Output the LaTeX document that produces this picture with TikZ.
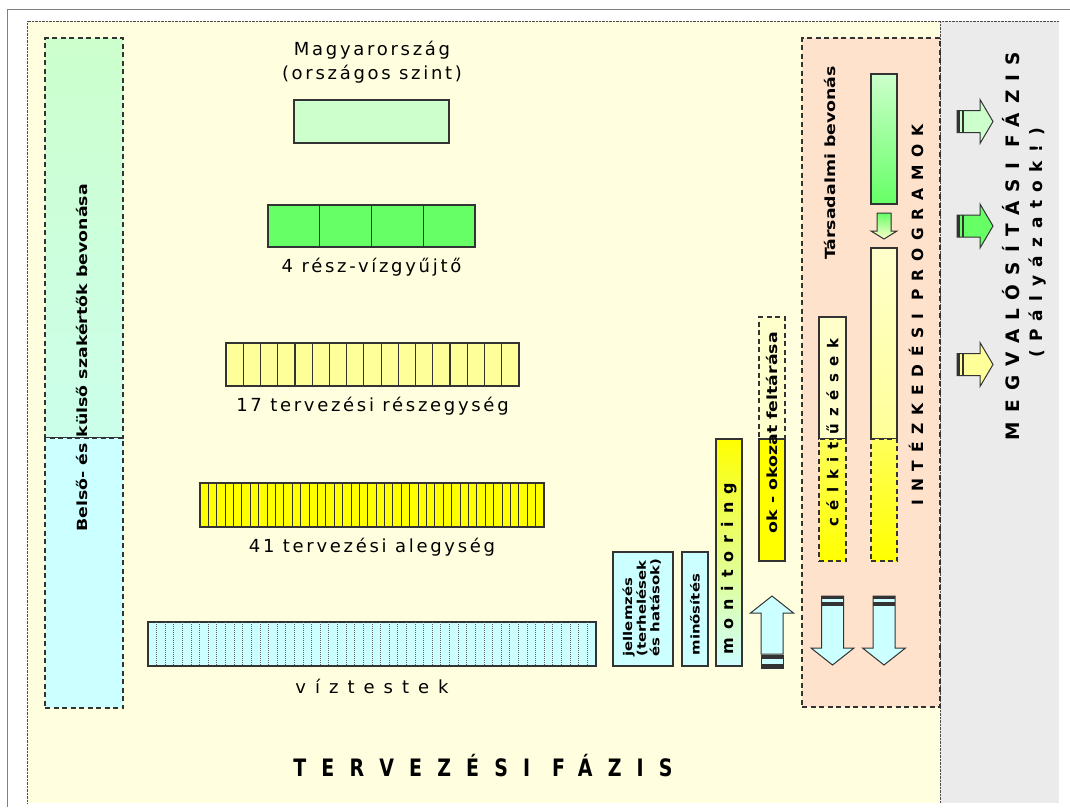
\documentclass[tikz,border=0pt]{standalone}
\usepackage{fontspec}
\setmainfont{DejaVu Sans}
\newfontfamily\looseface[LetterSpace=15]{DejaVu Sans}
\newfontfamily\spacedface[LetterSpace=50]{DejaVu Sans}
\newfontfamily\widerface[LetterSpace=80]{DejaVu Sans}
\newcommand{\widen}[1]{\scalebox{1.24}[1]{#1}}
\usetikzlibrary{calc,positioning}

\definecolor{planbg}{HTML}{FFFFE0}
\definecolor{implbg}{HTML}{EBEBEB}
\definecolor{peach}{HTML}{FFE2CC}
\definecolor{lgreen}{HTML}{CCFFCC}
\definecolor{fgreen}{HTML}{66FF66}
\definecolor{lyellow}{HTML}{FFFF99}
\definecolor{pyellow}{HTML}{FFFFCC}
\definecolor{fyellow}{HTML}{FFFF00}
\definecolor{lcyan}{HTML}{CCFFFF}
\definecolor{edge}{HTML}{333333}

\begin{document}
\begin{tikzpicture}[x=1pt,y=-1pt,line join=miter]
\tikzstyle{box}=[draw=edge,line width=1.2pt,inner sep=0pt,outer sep=0pt]
\tikzstyle{dbox}=[box,dash pattern=on 5pt off 3.5pt]
\tikzstyle{lbl}=[font=\looseface\fontsize{18}{24}\selectfont]
\tikzstyle{vlbl}=[rotate=90,font=\bfseries\fontsize{14}{16}\selectfont]
\tikzstyle{vspaced}=[rotate=90,font=\spacedface\bfseries\fontsize{14}{16}\selectfont]
\tikzstyle{blockarrow}=[draw=edge,line width=1pt]

\useasboundingbox (0,0) rectangle (1070,807);

% backgrounds
\fill[planbg] (27,21) rectangle (940,803);
\fill[implbg] (940,21) rectangle (1059,803);
\draw[gray,line width=1pt] (7,807) |- (1070,9);
\draw[densely dotted,black!70] (27,803) |- (1059,21);
\draw[densely dotted,black!70] (940,21) -- (940,803);

% experts column
\node[dbox,anchor=north west,minimum width=78,minimum height=400,top color=lgreen,bottom color=lcyan!60!lgreen] (expertsTop) at (45,38) {};
\node[dbox,anchor=north west,minimum width=78,minimum height=270,fill=lcyan] (expertsBot) at (45,438) {};
\node[vlbl] (experts) at (82,358) {\widen{Belső- és külső szakértők bevonása}};

% programmes zone
\node[dbox,anchor=north west,minimum width=138,minimum height=669,fill=peach] (programs) at (802,38) {};

% levels
\node[lbl,align=center] (nationalLabel) at (372,62) {Magyarország\\(országos szint)};
\node[box,fill=lgreen,minimum width=155,minimum height=43] (national) at (371.5,121.5) {};

\node[box,fill=fgreen,minimum width=207,minimum height=42] (subbasins) at (371.5,226) {};
\foreach \i in {1,...,3}
  \draw[edge,line width=1.2pt] ($(subbasins.north west)!\i/4!(subbasins.north east)$) -- ($(subbasins.south west)!\i/4!(subbasins.south east)$);
\node[lbl] (subbasinsLabel) [below=8pt of subbasins] {4 rész-vízgyűjtő};

\node[box,fill=lyellow,minimum width=293,minimum height=43] (units) at (372.5,364.5) {};
\foreach \i in {1,...,16}
  \draw[edge,line width=1.2pt] ($(units.north west)!\i/17!(units.north east)$) -- ($(units.south west)!\i/17!(units.south east)$);
\node[lbl] (unitsLabel) [below=8pt of units] {17 tervezési részegység};

\node[box,fill=fyellow,minimum width=344,minimum height=44] (subunits) at (372,505) {};
\foreach \i in {1,...,40}
  \draw[edge,line width=1pt] ($(subunits.north west)!\i/41!(subunits.north east)$) -- ($(subunits.south west)!\i/41!(subunits.south east)$);
\node[lbl] (subunitsLabel) [below=8pt of subunits] {41 tervezési alegység};

\node[box,fill=lcyan,minimum width=448,minimum height=44] (waterbodies) at (372,644) {};
\foreach \i in {1,...,51}
  \draw[densely dotted,black!60,line width=1pt] ($(waterbodies.north west)!\i/52!(waterbodies.north east)$) -- ($(waterbodies.south west)!\i/52!(waterbodies.south east)$);
\node[font=\spacedface\fontsize{18}{22}\selectfont] (waterbodiesLabel) [below=10pt of waterbodies] {víztestek};

% assessment steps
\node[box,fill=lcyan,anchor=north west,minimum width=60,minimum height=114] (characterisation) at (613,552) {};
\node[rotate=90,anchor=west,font=\bfseries\fontsize{12}{14}\selectfont] at ($(characterisation.south)+(0,-6)$)
  {\widen{\renewcommand{\arraystretch}{0.95}\begin{tabular}{@{}l@{}}jellemzés\\(terhelések\\és hatások)\end{tabular}}};
\node[box,fill=lcyan,anchor=north west,minimum width=26,minimum height=114] (quality) at (682,552) {};
\node[rotate=90,anchor=west,font=\bfseries\fontsize{12}{15}\selectfont] at ($(quality.south)+(0,-7)$) {\widen{minősítés}};
\node[box,anchor=north west,minimum width=26,minimum height=227,top color=fyellow,bottom color=lcyan] (monitoring) at (716,439) {};
\node[vspaced,anchor=west,font=\spacedface\bfseries\fontsize{16}{18}\selectfont] at ($(monitoring.south)+(0,-8)$) {monitoring};

\node[dbox,fill=pyellow,anchor=north west,minimum width=26,minimum height=122] (causesTop) at (759,317) {};
\node[box,fill=fyellow,anchor=north west,minimum width=26,minimum height=122] (causes) at (759,439) {};
\node[vlbl,anchor=west,font=\bfseries\fontsize{14}{16}\selectfont] at ($(causes.south)+(0,-24)$) {\widen{ok - okozat feltárása}};

\node[box,fill=pyellow,anchor=north west,minimum width=27,minimum height=122] (goalsTop) at (819,317) {};
\node[dbox,anchor=north west,minimum width=27,minimum height=122,top color=lyellow!60!fyellow,bottom color=fyellow] (goals) at (819,439) {};
\node[vspaced,anchor=west,font=\spacedface\bfseries\fontsize{15}{17}\selectfont] at ($(goals.south)+(0,-31)$) {célkitűzések};

\node[box,anchor=north west,minimum width=26,minimum height=130,top color=lgreen,bottom color=fgreen] (measuresGreen) at (871,74) {};
\node[box,anchor=north west,minimum width=26,minimum height=191,top color=pyellow,bottom color=lyellow] (measuresTop) at (871,248) {};
\node[dbox,anchor=north west,minimum width=26,minimum height=122,top color=lyellow!60!fyellow,bottom color=fyellow] (measures) at (871,439) {};
\filldraw[blockarrow,top color=fgreen,bottom color=pyellow] (877,213) -- (891,213) -- (891,231) -- (897,231) -- (884,239) -- (871,231) -- (877,231) -- cycle;

\node[vlbl] (public) at (830,163) {\widen{Társadalmi bevonás}};
\node[vspaced,font=\spacedface\bfseries\fontsize{15.5}{17}\selectfont] (programsLabel) at (916,315) {INTÉZKEDÉSI PROGRAMOK};

% up arrow (feedback)
\coordinate (upTip) at ($(causes.south)+(0,35)$);
\filldraw[blockarrow,fill=lcyan] (upTip) -- ++(21.5,17) -- ++(-10.5,0) -- ++(0,41) -- ++(-22,0) -- ++(0,-41) -- ++(-10.5,0) -- cycle;
\filldraw[blockarrow,fill=lcyan] ($(upTip)+(-11,59)$) rectangle ++(22,13);
\fill[edge] ($(upTip)+(-11,59)$) rectangle ++(22,3.5);
\fill[edge] ($(upTip)+(-11,68)$) rectangle ++(22,3.5);

% down arrows
\foreach \col in {goals,measures}{
  \coordinate (dTop) at ($(\col.south)+(0,35)$);
  \filldraw[blockarrow,fill=lcyan] ($(dTop)+(-11,0)$) -- ++(22,0) -- ++(0,52) -- ++(10.5,0) -- ++(-21.5,17) -- ++(-21.5,-17) -- ++(10.5,0) -- cycle;
  \fill[edge] ($(dTop)+(-11,0)$) rectangle ++(22,3);
  \fill[edge] ($(dTop)+(-11,6)$) rectangle ++(22,3.5);
}

% implementation arrows
\foreach \lvl/\col in {national/lgreen,subbasins/fgreen,units/lyellow}{
  \coordinate (rTail) at (\lvl -| 957,0);
  \filldraw[blockarrow,fill=\col] ($(rTail)+(0,-11)$) -- ++(23,0) -- ++(0,-11) -- ++(13,22) -- ++(-13,22) -- ++(0,-11) -- ++(-23,0) -- cycle;
  \fill[edge] ($(rTail)+(0,-11)$) rectangle ++(3,22);
  \fill[edge] ($(rTail)+(5,-11)$) rectangle ++(2,22);
}

\node[vspaced,font=\spacedface\bfseries\fontsize{18.5}{22}\selectfont] (implLabel) at (1011,246) {MEGVALÓSÍTÁSI FÁZIS};
\node[vspaced,font=\spacedface\bfseries\fontsize{17}{20}\selectfont] (callsLabel) at (1038,243) {(Pályázatok!)};

\node[font=\widerface\bfseries\fontsize{24}{26}\selectfont] (planLabel) at (483,766) {\scalebox{0.79}[1]{TERVEZÉSI FÁZIS}};
\end{tikzpicture}
\end{document}
